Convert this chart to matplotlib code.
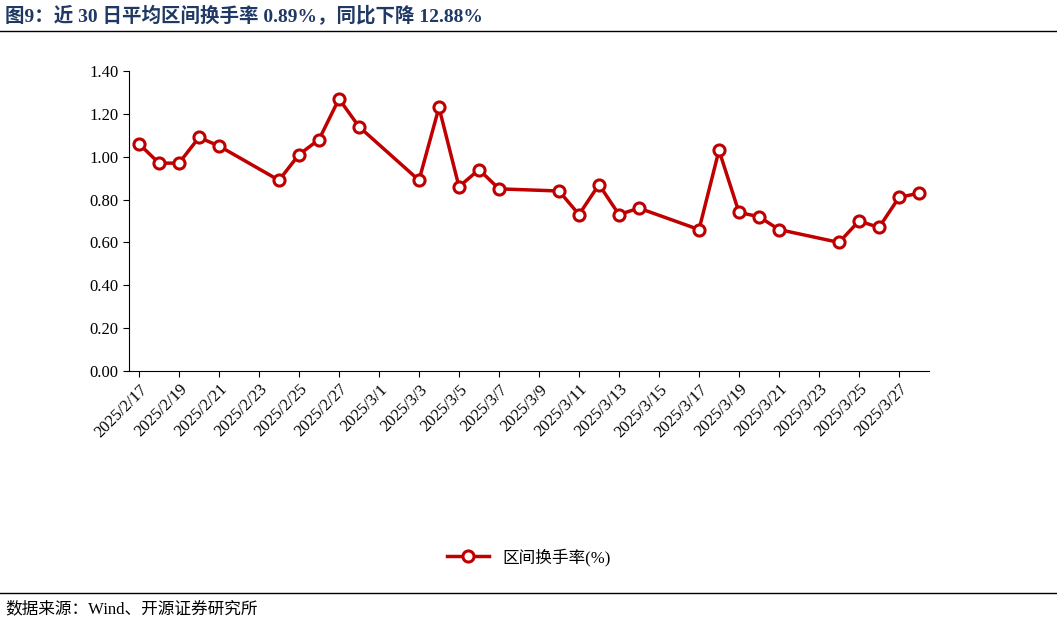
import matplotlib
matplotlib.use("Agg")
import matplotlib.pyplot as plt
import matplotlib.dates as mdates
import pandas as pd

dates = ["2025-02-17","2025-02-18","2025-02-19","2025-02-20","2025-02-21",
         "2025-02-24","2025-02-25","2025-02-26","2025-02-27","2025-02-28",
         "2025-03-03","2025-03-04","2025-03-05","2025-03-06","2025-03-07",
         "2025-03-10","2025-03-11","2025-03-12","2025-03-13","2025-03-14",
         "2025-03-17","2025-03-18","2025-03-19","2025-03-20","2025-03-21",
         "2025-03-24","2025-03-25","2025-03-26","2025-03-27","2025-03-28"]
values = [1.06,0.97,0.97,1.09,1.05,0.89,1.01,1.08,1.27,1.14,
          0.89,1.23,0.86,0.94,0.85,0.84,0.73,0.87,0.73,0.76,
          0.66,1.03,0.74,0.72,0.66,0.60,0.70,0.67,0.81,0.83]
yticks = [0.0,0.2,0.4,0.6,0.8,1.0,1.2,1.4]

fam = ["Liberation Serif", "Noto Sans CJK SC"]
plt.rcParams['font.family'] = fam
x = pd.to_datetime(dates)
red = "#C00000"

fig = plt.figure(figsize=(10.57, 6.23), dpi=100)
ax = fig.add_axes([129/1057, 1-371/623, 800/1057, 300/623])
ax.plot(x, values, color=red, lw=2.5, marker="o", ms=8, mfc="white",
        mec=red, mew=2.2, label="区间换手率(%)")
ax.set_ylim(0, 1.4)
ax.set_yticks(yticks)
ax.set_yticklabels([f"{v:.2f}" for v in yticks], fontsize=12)
ax.set_xlim(pd.Timestamp("2025-02-16 12:00"), pd.Timestamp("2025-03-28 12:00"))
ticks = pd.date_range("2025-02-17", "2025-03-27", freq="2D")
ax.set_xticks(ticks)
ax.set_xticklabels([f"{d.year}/{d.month}/{d.day}" for d in ticks], rotation=45,
                   ha="right", rotation_mode="anchor", fontsize=12)
for s in ["top", "right"]:
    ax.spines[s].set_visible(False)
ax.tick_params(axis="both", direction="out", length=4)
ax.legend(loc="center", bbox_to_anchor=(0.5, (371-557)/300 + 0.0), frameon=False,
          fontsize=12, handlelength=2.5)

fig.text(0.005, 1-16/623, "图9：近 30 日平均区间换手率 0.89%，同比下降 12.88%",
         fontsize=14, fontweight="bold", color="#1F3864", va="center")
fig.add_artist(plt.Line2D([0, 1], [1-31/623]*2, color="black", lw=1))
fig.add_artist(plt.Line2D([0, 1], [1-593/623]*2, color="black", lw=1))
fig.text(0.005, 1-609/623, "数据来源：Wind、开源证券研究所", fontsize=12, va="center")
fig.savefig("out.png", dpi=100)
